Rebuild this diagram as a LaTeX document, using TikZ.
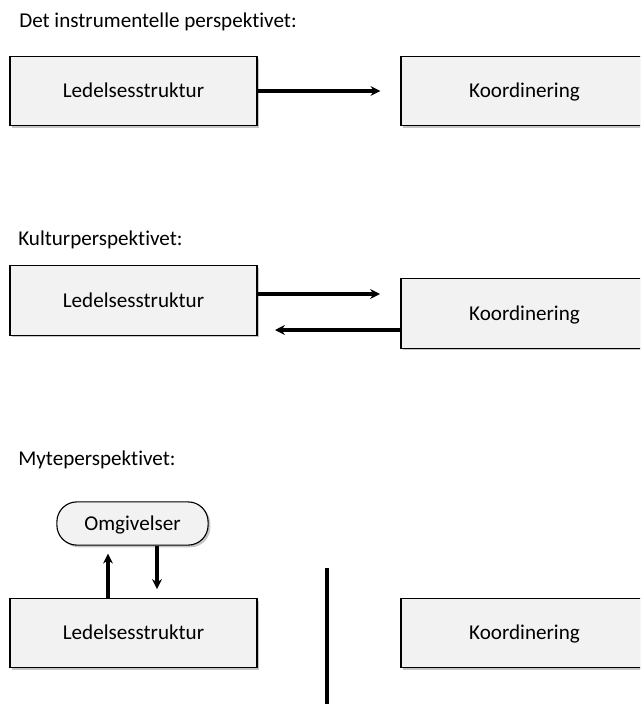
\documentclass[tikz,border=0pt]{standalone}
\usepackage{fontspec}
\setmainfont{Carlito}[Ligatures=NoCommon]
\usetikzlibrary{arrows.meta,shadows}

\begin{document}
\begin{tikzpicture}[
    x = 0.025cm,
    y = -0.025cm,
    >={Stealth[length=7pt,width=7pt]},
    title/.style = {anchor=west, inner sep=0pt, font=\fontsize{15}{18}\selectfont},
    boks/.style = {rectangle, draw=black, fill=black!5, line width=0.8pt,
              minimum width=6.175cm, minimum height=1.73cm,
              text height=11pt, text depth=1.5pt,
              font=\fontsize{15}{18}\selectfont,
              drop shadow={shadow xshift=1.6pt, shadow yshift=-1.6pt, opacity=0.45}},
    pil/.style = {->, line width=2.6pt},
    ]

\useasboundingbox (0,0) rectangle (640,704);
\clip (0,0) rectangle (640,704);

% det instrumentelle perspektivet
\node[title] (tit_1) at (19,22) {Det instrumentelle perspektivet:};
\node[boks] (led_1) at (133.5,91) {Ledelsesstruktur};
\node[boks] (koo_1) at (524.5,91) {Koordinering};
\draw [pil, shorten >=0.5cm] (led_1) -- (koo_1);

% kulturperspektivet
\node[title] (tit_2) at (18,240) {Kulturperspektivet:};
\node[boks] (led_2) at (133.5,300.5) {Ledelsesstruktur};
\node[boks] (koo_2) at (524.5,313.5) {Koordinering};
\coordinate (til_2) at (380,294);
\coordinate (fra_2) at (275,330);
\draw [pil] (led_2.east |- til_2) -- (til_2);
\draw [pil] (koo_2.west |- fra_2) -- (fra_2);

% myteperspektivet
\node[title] (tit_3) at (18,460) {Myteperspektivet:};
\node[boks] (led_3) at (133.5,633) {Ledelsesstruktur};
\node[boks] (koo_3) at (524.5,633) {Koordinering};
\node[boks, minimum width=3.78cm, minimum height=1.08cm,
      rounded corners=0.5cm] (omg) at (132.5,523.5) {Omgivelser};
\coordinate (opp_3) at (108,0);
\coordinate (ned_3) at (157,0);
\draw [pil, shorten >=0.2cm] (led_3.north -| opp_3) -- (omg.south -| opp_3);
\draw [pil, shorten >=0.22cm] (omg.south -| ned_3) -- (led_3.north -| ned_3);

\coordinate (skille_a) at (327,568);
\coordinate (skille_b) at (327,704);
\draw [line width=2.8pt] (skille_a) -- (skille_b);

\end{tikzpicture}
\end{document}
